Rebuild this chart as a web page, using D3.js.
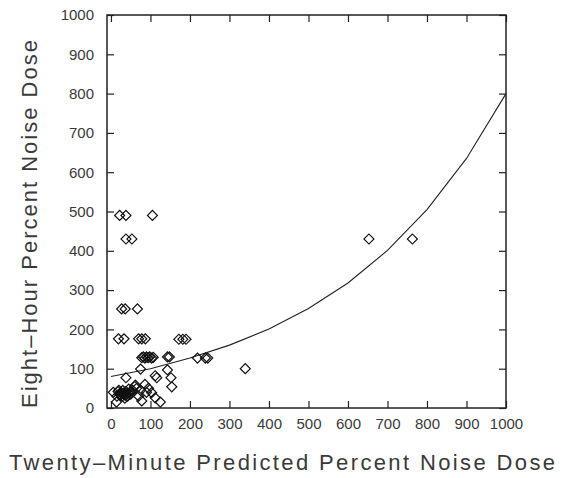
<!DOCTYPE html>
<html>
<head>
<meta charset="utf-8">
<script src="https://cdn.jsdelivr.net/npm/d3@7"></script>
<style>
  body { margin: 0; background: #fff; }
  text { font-family: "Liberation Sans", Arial, sans-serif; fill: #3a3a3a; }
</style>
</head>
<body>
<script>
// measured points: twenty-minute predicted dose (x) vs eight-hour dose (y)
var doseX = [22, 38, 105, 38, 53, 653, 763,
  27, 36, 67, 19, 33, 70, 78, 87, 172, 182, 190,
  78, 82, 86, 90, 94, 98, 103, 107, 143, 148, 219, 239, 245, 340,
  6, 14, 15, 20, 22, 25, 28, 30, 32, 35, 38, 40, 42, 45, 48, 50, 55,
  24, 27, 33, 36, 43, 18,
  38, 60, 62, 65, 70, 75, 78, 75, 86, 90, 95, 103, 112, 125, 116, 112, 143, 152, 154];
var doseY = [490, 490, 490, 430, 430, 430, 430,
  252, 252, 252, 176, 176, 176, 176, 176, 175, 175, 175,
  128, 130, 127, 130, 128, 130, 127, 129, 130, 130, 127, 127, 127, 100,
  40, 15, 30, 45, 35, 40, 30, 45, 38, 25, 42, 35, 30, 48, 40, 35, 45,
  33, 38, 35, 32, 38, 42,
  77, 55, 58, 50, 30, 45, 18, 99, 60, 40, 50, 39, 26, 15, 77, 82, 97, 77, 54];

// fitted curve
var fitX = [0, 100, 200, 300, 400, 500, 600, 700, 800, 900, 1000];
var fitY = [80, 100, 127, 160, 201, 253, 318, 401, 505, 635, 800];

var ticks = [0, 100, 200, 300, 400, 500, 600, 700, 800, 900, 1000];

var svgWidth = 562, svgHeight = 478;
var plotLeft = 107, plotRight = 506, plotTop = 15, plotBottom = 408;

var svg = d3.select('body').append('svg').attr('width', svgWidth).attr('height', svgHeight);

var x = d3.scaleLinear().domain([-10, 1000]).range([plotLeft, plotRight]);
var y = d3.scaleLinear().domain([0, 1000]).range([plotBottom, plotTop]);

function style(g) {
  g.select('.domain').remove();
  g.selectAll('line').attr('stroke', '#222').attr('stroke-width', 1.2);
  g.selectAll('text').style('font-size', '15px').attr('fill', '#3a3a3a');
}

svg.append('g').attr('transform', 'translate(0,' + plotBottom + ')')
  .call(d3.axisBottom(x).tickValues(ticks).tickFormat(d3.format('d')).tickSize(-7).tickPadding(10))
  .call(style);
svg.append('g').attr('transform', 'translate(' + plotLeft + ',0)')
  .call(d3.axisLeft(y).tickValues(ticks).tickFormat(d3.format('d')).tickSize(-7).tickPadding(13))
  .call(style);
svg.append('g').attr('transform', 'translate(0,' + plotTop + ')')
  .call(d3.axisTop(x).tickValues(ticks).tickSize(-7).tickFormat(''))
  .call(style);
svg.append('g').attr('transform', 'translate(' + plotRight + ',0)')
  .call(d3.axisRight(y).tickValues(ticks).tickSize(-7).tickFormat(''))
  .call(style);

// frame
svg.append('rect')
  .attr('x', plotLeft).attr('y', plotTop)
  .attr('width', plotRight - plotLeft).attr('height', plotBottom - plotTop)
  .attr('fill', 'none').attr('stroke', '#222').attr('stroke-width', 1.5);

// fitted line
var line = d3.line()
  .x(function (d, i) { return x(fitX[i]); })
  .y(function (d, i) { return y(fitY[i]); });
svg.append('path').datum(fitX)
  .attr('d', line)
  .attr('fill', 'none').attr('stroke', '#222').attr('stroke-width', 1.1);

// diamonds
var diamond = d3.symbol().type(d3.symbolSquare).size(50);
svg.selectAll('path.pt')
  .data(doseX)
  .enter()
  .append('path')
  .attr('class', 'pt')
  .attr('d', diamond)
  .attr('transform', function (d, i) {
    return 'translate(' + x(d) + ',' + y(doseY[i]) + ') rotate(45)';
  })
  .attr('fill', 'none').attr('stroke', '#111').attr('stroke-width', 1.2);

// axis titles
svg.append('text')
  .attr('x', 282).attr('y', 470)
  .attr('text-anchor', 'middle')
  .attr('textLength', 546).attr('lengthAdjust', 'spacing')
  .style('font-size', '22px')
  .text('Twenty–Minute Predicted Percent Noise Dose');

svg.append('text')
  .attr('transform', 'translate(37,224) rotate(-90)')
  .attr('text-anchor', 'middle')
  .attr('textLength', 368).attr('lengthAdjust', 'spacing')
  .style('font-size', '22px')
  .text('Eight–Hour Percent Noise Dose');
</script>
</body>
</html>
